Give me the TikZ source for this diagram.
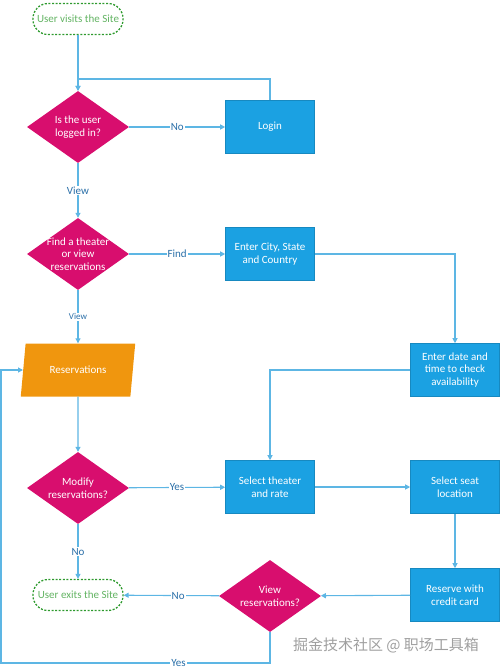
\documentclass[tikz,border=0pt]{standalone}
\usepackage{fontspec}
\setmainfont{Carlito}
\newfontfamily\cjkfont{Noto Sans CJK SC}
\usetikzlibrary{shapes.geometric,arrows.meta}

\definecolor{rosered}{HTML}{D80E6E}
\definecolor{boxblue}{HTML}{1BA1E2}
\definecolor{ioorange}{HTML}{F0960E}
\definecolor{linkblue}{HTML}{5DB6E4}
\definecolor{labelblue}{HTML}{2A6FA8}
\definecolor{termgreen}{HTML}{2E9A2E}

\tikzset{
  txt/.style={font=\fontsize{11}{12.5}\selectfont, align=center},
  term/.style={txt, rectangle, rounded corners=15pt, draw=termgreen, dash pattern=on 2pt off 1.6pt, line width=1.3pt, text=termgreen!75!white, minimum width=90pt, minimum height=31pt, inner sep=0pt},
  decide/.style={txt, diamond, fill=rosered, text=white, minimum width=102pt, minimum height=72pt, inner sep=-7pt, aspect=1.42},
  proc/.style={txt, rectangle, fill=boxblue, draw=boxblue!85!black, line width=0.6pt, text=white, minimum width=89pt, minimum height=53pt, inner sep=0pt},
  io/.style={txt, trapezium, trapezium left angle=71, trapezium right angle=109, trapezium stretches=true, fill=ioorange, text=white, minimum width=115pt, minimum height=53pt, inner sep=0pt},
  flow/.style={draw=linkblue, line width=1.1pt, -{Triangle[length=5pt,width=5pt]}},
  lbl/.style={txt, fill=white, text=labelblue, inner sep=1pt}
}

\begin{document}
\begin{tikzpicture}[x=1pt,y=-1pt]
\useasboundingbox (0,0) rectangle (500,671);
% shapes
\node[term] (visit) at (78,19) {User visits the Site};
\node[decide] (logged) at (78,127) {Is the user\\logged in?};
\node[proc] (login) at (270,127) {Login};
\node[decide] (find) at (78,254) {Find a theater\\or view\\reservations};
\node[proc] (city) at (270,254) {Enter City, State\\and Country};
\node[io] (resv) at (78,370) {Reservations};
\node[proc] (date) at (455,370) {Enter date and\\time to check\\availability};
\node[decide] (modify) at (78,488) {Modify\\reservations?};
\node[proc] (theater) at (270,487) {Select theater\\and rate};
\node[proc] (seat) at (455,487) {Select seat\\location};
\node[term] (exit) at (78,595) {User exits the Site};
\node[decide] (viewres) at (270,596) {View\\reservations?};
\node[proc] (card) at (455,595) {Reserve with\\credit card};
\coordinate (loop) at (78,79);
\coordinate (back) at (1,663);
% connectors
\draw[flow] (visit) -- (logged);
\draw[flow] (logged) -- node[lbl] {No} (login);
\draw[flow] (login.north) |- (loop) -- (logged.north);
\draw[flow] (logged) -- node[lbl] {View} (find);
\draw[flow] (find) -- node[lbl] {Find} (city);
\draw[flow] (find) -- node[lbl, font=\fontsize{9}{10}\selectfont] {View} (resv);
\draw[flow] (city.east) -| (date.north);
\draw[flow] (date.west) -| (theater.north);
\draw[flow] (resv) -- (modify);
\draw[flow] (modify) -- node[lbl] {Yes} (theater);
\draw[flow] (theater) -- (seat);
\draw[flow] (seat) -- (card);
\draw[flow] (card) -- (viewres);
\draw[flow] (viewres) -- node[lbl, pos=0.43] {No} (exit);
\draw[flow] (modify) -- node[lbl] {No} (exit);
\draw[flow] (viewres.south) |- node[lbl, pos=0.67] {Yes} (back) |- (resv.west);
% watermark
\node[text=gray!75] (mark) at (386,645) {\cjkfont\fontsize{15}{15}\selectfont 掘金技术社区 @ 职场工具箱};
\end{tikzpicture}
\end{document}
